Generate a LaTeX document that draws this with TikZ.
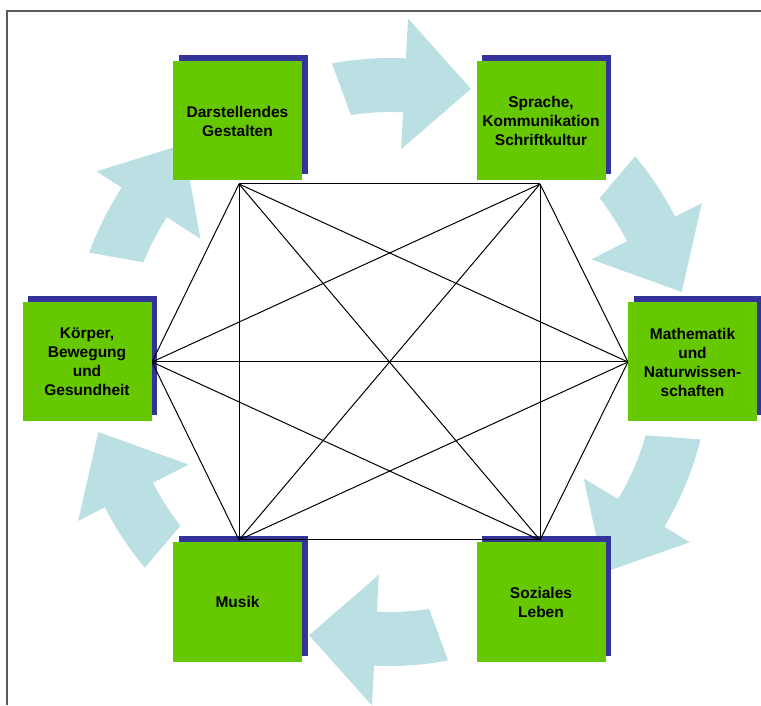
\documentclass[tikz,border=0pt]{standalone}
\usepackage{fontspec}
\setmainfont{Liberation Sans}
\usetikzlibrary{calc}
\definecolor{boxgreen}{RGB}{102,200,0}
\definecolor{shadowblue}{RGB}{51,51,153}
\definecolor{arrowblue}{RGB}{187,224,227}
\definecolor{framegray}{RGB}{90,90,90}
% #1 base angle, #2 band inner r, #3 band outer r, #4 wing inner r, #5 wing outer r, #6 tip r, #7 tail extent
\newcommand\cyclearrow[7]{%
  \fill[arrowblue] ($(C)+({#1+#7}:#3)$) arc[start angle={#1+#7}, end angle={#1}, radius=#3pt]
    -- ($(C)+(#1:#5)$) -- ($(C)+({#1-13.5}:#6)$) -- ($(C)+(#1:#4)$) -- ($(C)+(#1:#2)$)
    arc[start angle={#1}, end angle={#1+#7-2}, radius=#2pt] -- cycle;}
\begin{document}
\begin{tikzpicture}[x=1pt,y=1pt,
  area/.style={fill=boxgreen, minimum width=129pt, minimum height=119pt, inner sep=0pt,
    align=center, font=\bfseries\fontsize{15.5}{19}\selectfont},
  boxshadow/.style={fill=shadowblue, minimum width=129pt, minimum height=119pt, inner sep=0pt},
  link/.style={draw=black, line width=1pt},
  frameline/.style={draw=framegray, line width=1.6pt}]
\useasboundingbox (0,0) rectangle (761,705);
\coordinate (C) at (390,343);
% frame
\coordinate (F1) at (7,0);
\coordinate (F2) at (7,694);
\coordinate (F3) at (762,694);
\draw[frameline] (F1) -- (F2) -- (F3);
% cycle arrows
\cyclearrow{87}{250}{304}{213}{344}{285}{14}
\cyclearrow{27}{266}{320}{226}{350}{300}{13}
\cyclearrow{-31}{266}{320}{226}{350}{300}{17}
\cyclearrow{-93}{250}{304}{213}{344}{285}{14}
\cyclearrow{-153}{266}{320}{226}{350}{300}{13}
\cyclearrow{147}{266}{320}{226}{350}{300}{13}
% shadows
\node[boxshadow] (Ds) at (243,590) {};
\node[boxshadow] (Ss) at (546.5,590) {};
\node[boxshadow] (Ks) at (92,349) {};
\node[boxshadow] (Ms) at (698,349) {};
\node[boxshadow] (Mus) at (243,109) {};
\node[boxshadow] (Sos) at (546.5,109) {};
% hexagon vertices
\coordinate (TL) at (239,521);
\coordinate (TR) at (540,521);
\coordinate (L) at (152,343);
\coordinate (R) at (628,343);
\coordinate (BL) at (239,165);
\coordinate (BR) at (540,165);
\foreach \a/\b in {TL/TR, TL/L, TL/R, TL/BL, TL/BR, TR/L, TR/R, TR/BL, TR/BR,
                   L/R, L/BL, L/BR, R/BL, R/BR, BL/BR}
  \draw[link] (\a) -- (\b);
% boxes
\node[area] (D) at (237.5,584) {Darstellendes\\Gestalten};
\node[area] (S) at (541,584) {Sprache,\\Kommunikation\\Schriftkultur};
\node[area] (K) at (87,343) {Körper,\\Bewegung\\und\\Gesundheit};
\node[area] (M) at (692.5,343) {Mathematik\\und\\Naturwissen-\\schaften};
\node[area] (Mu) at (237.5,103) {Musik};
\node[area] (So) at (541,103) {Soziales\\Leben};
\end{tikzpicture}
\end{document}
